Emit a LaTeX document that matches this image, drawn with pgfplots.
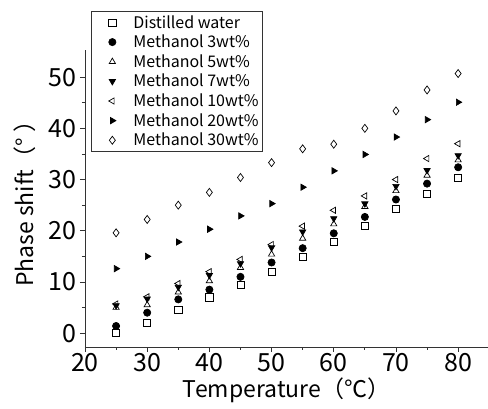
\documentclass[border=0pt]{standalone}
\usepackage{fontspec}
\setmainfont{Noto Sans CJK JP}
\usepackage{pgfplots}
\pgfplotsset{compat=1.18}

\begin{document}
\begin{tikzpicture}
\begin{axis}[
  scale only axis,
  width=403pt, height=297pt,
  xmin=20, xmax=84.8, ymin=-2.7, ymax=55.3,
  axis lines=left,
  axis line style={-, line width=0.8pt, black!80},
  every tick/.style={line width=0.8pt, black!80},
  tick align=outside,
  major tick length=5pt, minor tick length=3pt,
  xtick={20,30,...,80}, ytick={0,10,...,50},
  minor x tick num=1, minor y tick num=1,
  /pgf/number format/assume math mode=true,
  tick label style={font=\fontsize{25}{27}\selectfont},
  xticklabel style={yshift=2pt},
  xlabel={Temperature（℃）}, ylabel={Phase shift（° ）},
  label style={font=\fontsize{23}{25}\selectfont},
  xlabel style={yshift=1pt}, ylabel style={yshift=6pt},
  legend cell align=left,
  legend image code/.code={
    \path[draw=none] (0pt,0pt) rectangle (38pt,0pt);
    \path[#1] plot[only marks] coordinates {(19pt,0pt)};
  },
  legend style={at={(axis description cs:0,1)}, anchor=north west,
    xshift=6pt, yshift=39pt, draw=black!80, line width=0.7pt,
    font=\fontsize{16}{18}\selectfont, row sep=1.4pt,
    inner xsep=2pt, inner ysep=2pt},
  every axis plot/.append style={only marks, black, mark size=3.6pt, line width=0.7pt},
]
\coordinate (sw) at (rel axis cs:0,0);
\coordinate (ne) at (rel axis cs:1,1);

\addplot[mark=square] coordinates {
(25,0.0) (30,2.0) (35,4.5) (40,7.0) (45,9.4) (50,12.0) (55,14.9) (60,17.8)
(65,20.9) (70,24.2) (75,27.2) (80,30.4)};
\addlegendentry{Distilled water}

\addplot[mark=*] coordinates {
(25,1.4) (30,4.0) (35,6.6) (40,8.5) (45,11.0) (50,13.8) (55,16.6) (60,19.5)
(65,22.7) (70,26.1) (75,29.2) (80,32.4)};
\addlegendentry{Methanol 3wt\%}

\addplot[mark=triangle] coordinates {
(25,5.0) (30,5.5) (35,8.0) (40,10.2) (45,12.8) (50,15.4) (55,18.5) (60,21.3)
(65,24.7) (70,27.8) (75,30.8) (80,33.8)};
\addlegendentry{Methanol 5wt\%}

\addplot[mark=triangle*, mark options={rotate=180}] coordinates {
(25,5.4) (30,6.7) (35,9.0) (40,11.3) (45,13.6) (50,16.7) (55,19.8) (60,22.4)
(65,25.3) (70,28.7) (75,31.8) (80,34.7)};
\addlegendentry{Methanol 7wt\%}

\addplot[mark=triangle, mark options={rotate=90}] coordinates {
(25,5.7) (30,7.1) (35,9.7) (40,12.0) (45,14.4) (50,17.3) (55,20.9) (60,24.0)
(65,26.8) (70,30.0) (75,34.1) (80,37.0)};
\addlegendentry{Methanol 10wt\%}

\addplot[mark=triangle*, mark options={rotate=-90}] coordinates {
(25,12.6) (30,15.0) (35,17.8) (40,20.3) (45,22.9) (50,25.3) (55,28.5) (60,31.7)
(65,34.9) (70,38.3) (75,41.7) (80,45.1)};
\addlegendentry{Methanol 20wt\%}

\addplot[mark=diamond, mark size=4pt] coordinates {
(25,19.6) (30,22.2) (35,25.0) (40,27.5) (45,30.4) (50,33.3) (55,36.0) (60,36.9)
(65,40.0) (70,43.4) (75,47.5) (80,50.7)};
\addlegendentry{Methanol 30wt\%}
\end{axis}
\pgfresetboundingbox
\path ([shift={(-85pt,-62pt)}]sw) rectangle ([shift={(0pt,50pt)}]ne);
\end{tikzpicture}
\end{document}
